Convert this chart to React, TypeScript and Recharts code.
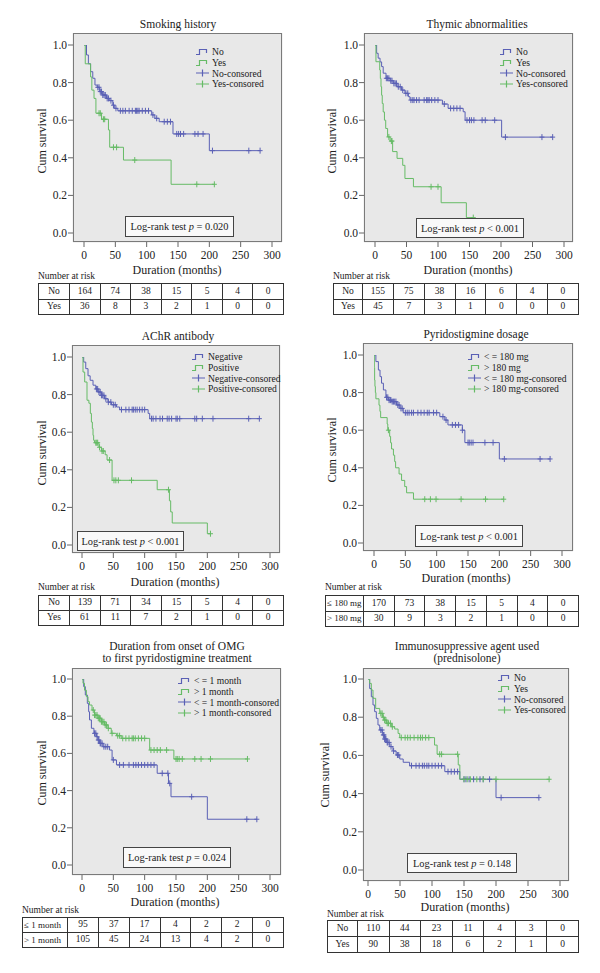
import React from 'react';
import { ComposedChart, Line, Scatter, XAxis, YAxis, CartesianGrid } from 'recharts';

const BLUE = '#5a60b5';
const GREEN = '#66bb66';
const BG = '#e8e8e8';
const FONT = '"Liberation Serif", "DejaVu Serif", serif';

type Pt = [number, number];

// ---- Smoking history
const SMOKE_NO: Pt[] = [[0, 1], [4, 0.947], [7, 0.9], [10.5, 0.858], [14, 0.823], [17.5, 0.787], [21, 0.775], [25, 0.752], [30, 0.734], [36, 0.716], [41, 0.704], [46, 0.68], [49, 0.663], [54, 0.65], [108, 0.628], [113, 0.61], [120, 0.592], [142, 0.527], [200, 0.438], [281, 0.438]];
const SMOKE_NO_CENS = [22, 24, 26, 28, 30, 32, 34, 37, 39, 43, 47, 51, 58, 62, 66, 72, 77, 82, 84, 86, 88, 93, 98, 103, 110, 116, 128, 133, 138, 148, 151, 154, 159, 177, 182, 190, 205, 263, 281];
const SMOKE_YES: Pt[] = [[0, 1], [2, 0.9], [10.5, 0.83], [12.5, 0.76], [16, 0.716], [19, 0.637], [28, 0.605], [39, 0.548], [41, 0.456], [63, 0.388], [139, 0.259], [208, 0.259]];
const SMOKE_YES_CENS = [24, 26, 31, 33, 47, 52, 81, 180, 208];
const SMOKE_RISK_NO = [164, 74, 38, 15, 5, 4, 0];
const SMOKE_RISK_YES = [36, 8, 3, 2, 1, 0, 0];

// ---- Thymic abnormalities
const THYM_NO: Pt[] = [[0, 1], [2.6, 0.956], [5, 0.93], [8, 0.91], [10.5, 0.885], [13, 0.85], [17.5, 0.823], [24, 0.81], [29, 0.796], [35, 0.778], [42, 0.76], [47.5, 0.743], [53, 0.725], [55.5, 0.707], [107, 0.686], [116, 0.663], [140, 0.645], [143, 0.6], [201, 0.51], [282, 0.51]];
const THYM_NO_CENS = [18, 20, 22, 25, 27, 30, 32, 34, 37, 40, 44, 49, 52, 57, 60, 62, 66, 70, 78, 82, 84, 86, 90, 95, 100, 110, 120, 125, 130, 135, 146, 150, 153, 157, 170, 175, 190, 207, 265, 282];
const THYM_YES: Pt[] = [[0, 1], [1.5, 0.911], [7.5, 0.867], [8.5, 0.822], [9.5, 0.778], [10.5, 0.733], [11.5, 0.689], [13, 0.644], [15, 0.6], [17, 0.556], [20, 0.511], [24, 0.489], [28, 0.433], [35, 0.397], [44, 0.36], [47.5, 0.29], [61, 0.246], [105, 0.161], [145, 0.082], [156, 0.082]];
const THYM_YES_CENS = [22, 26, 27, 89, 100, 156];
const THYM_RISK_NO = [155, 75, 38, 16, 6, 4, 0];
const THYM_RISK_YES = [45, 7, 3, 1, 0, 0, 0];

// ---- AChR antibody
const ACHR_NEG: Pt[] = [[0, 1], [2.7, 0.973], [6, 0.938], [9.6, 0.9], [13, 0.876], [17.6, 0.85], [22, 0.83], [25.6, 0.814], [31, 0.796], [36, 0.778], [41.6, 0.76], [47, 0.746], [55, 0.734], [60, 0.72], [105.5, 0.7], [108, 0.672], [283, 0.672]];
const ACHR_NEG_CENS = [23, 25, 27, 29, 31, 33, 35, 38, 42, 46, 50, 53, 63, 70, 75, 80, 82, 85, 88, 92, 96, 100, 111, 113.5, 118, 124.5, 128.5, 136, 139, 143, 150, 152, 156, 180, 183, 192, 209, 266, 283];
const ACHR_POS: Pt[] = [[0, 1], [1.6, 0.92], [4.3, 0.867], [8, 0.77], [11, 0.754], [13.3, 0.7], [15, 0.654], [16.5, 0.62], [17.6, 0.583], [18.6, 0.557], [20, 0.544], [27, 0.52], [31, 0.5], [37, 0.48], [40, 0.452], [48, 0.344], [120, 0.294], [139.5, 0.235], [141.5, 0.176], [144, 0.117], [200, 0.06], [205, 0.06]];
const ACHR_POS_CENS = [22, 23.5, 25, 28, 32, 34, 44, 51, 54, 58, 79, 138, 205];
const ACHR_RISK_NO = [139, 71, 34, 15, 5, 4, 0];
const ACHR_RISK_YES = [61, 11, 7, 2, 1, 0, 0];

// ---- Pyridostigmine dosage
const PYR_LE: Pt[] = [[0, 1], [3, 0.965], [7, 0.92], [9.6, 0.885], [12, 0.85], [15, 0.814], [19, 0.775], [23, 0.76], [28, 0.752], [36, 0.734], [41.4, 0.716], [46.7, 0.693], [105, 0.672], [113, 0.654], [118, 0.628], [141, 0.6], [145, 0.534], [200, 0.447], [281, 0.447]];
const PYR_LE_CENS = [20, 22, 24, 26, 27, 29, 31, 33, 35, 38, 40, 43, 45, 50, 53, 56, 60, 63, 70, 75, 80, 85, 88, 95, 100, 110, 115, 125, 130, 135, 141, 150, 152, 155, 158, 177, 190, 208, 265, 281];
const PYR_GT: Pt[] = [[0, 1], [0.5, 0.933], [1, 0.867], [1.5, 0.833], [2.2, 0.8], [3, 0.767], [8, 0.733], [9.5, 0.7], [10.6, 0.667], [21, 0.633], [22, 0.6], [25, 0.567], [26.5, 0.533], [28, 0.5], [31, 0.467], [33, 0.433], [34.5, 0.4], [40, 0.367], [44, 0.333], [49, 0.3], [52, 0.267], [63, 0.233], [207, 0.233]];
const PYR_GT_CENS = [23, 81, 90, 99, 139, 178, 207];
const PYR_RISK_LE = [170, 73, 38, 15, 5, 4, 0];
const PYR_RISK_GT = [30, 9, 3, 2, 1, 0, 0];

// ---- Onset to first pyridostigmine
const OMG_LE: Pt[] = [[0, 1], [2.7, 0.959], [5.3, 0.914], [8.5, 0.869], [10.6, 0.824], [12, 0.78], [15, 0.735], [19, 0.708], [23, 0.69], [25.5, 0.672], [28, 0.654], [33.5, 0.636], [44, 0.618], [48, 0.565], [55, 0.538], [120, 0.493], [138, 0.439], [142, 0.367], [200, 0.246], [279, 0.246]];
const OMG_LE_CENS = [20, 22, 24, 26, 27, 29, 30, 32, 35, 38, 41, 50, 60, 66, 75, 82, 86, 90, 95, 100, 105, 110, 115, 128, 137, 140, 175, 263, 279];
const OMG_GT: Pt[] = [[0, 1], [1.6, 0.977], [4, 0.94], [7, 0.905], [9.6, 0.878], [12, 0.86], [16, 0.833], [20, 0.806], [25.5, 0.789], [31, 0.77], [36, 0.753], [41.4, 0.735], [46.7, 0.708], [55, 0.695], [62.6, 0.681], [108, 0.618], [146.6, 0.57], [264, 0.57]];
const OMG_GT_CENS = [18, 20, 22, 24, 26, 28, 29, 31, 33, 35, 37, 39, 42, 48, 57, 60, 65, 70, 75, 80, 82, 85, 90, 95, 100, 110, 115, 120, 125, 135, 150, 152, 155, 160, 180, 190, 205, 264];
const OMG_RISK_LE = [95, 37, 17, 4, 2, 2, 0];
const OMG_RISK_GT = [105, 45, 24, 13, 4, 2, 0];

// ---- Prednisolone
const IMM_NO: Pt[] = [[0, 1], [2.6, 0.95], [5.2, 0.907], [7.8, 0.864], [10.4, 0.829], [13, 0.794], [15.6, 0.759], [18.3, 0.733], [22.4, 0.707], [26, 0.686], [28.7, 0.668], [34, 0.646], [39, 0.623], [44, 0.602], [49.6, 0.581], [55, 0.564], [65, 0.546], [120, 0.515], [143.5, 0.475], [200, 0.379], [267, 0.379]];
const IMM_NO_CENS = [20, 22, 24, 25, 26, 27, 28, 30, 31, 33, 36, 40, 46, 48, 68, 75, 80, 85, 88, 92, 95, 100, 105, 110, 115, 125, 130, 135, 140, 150, 153, 158, 165, 175, 180, 190, 208, 267];
const IMM_YES: Pt[] = [[0, 1], [2.6, 0.977], [5.2, 0.942], [7.8, 0.899], [12, 0.846], [18.3, 0.82], [22.4, 0.8], [26, 0.785], [28.7, 0.768], [36.5, 0.75], [41.7, 0.738], [47, 0.715], [49.6, 0.693], [104, 0.654], [108, 0.606], [141, 0.55], [143.5, 0.475], [283, 0.475]];
const IMM_YES_CENS = [20, 22, 24, 26, 28, 30, 32, 35, 38, 52, 58, 62, 66, 72, 78, 82, 85, 90, 95, 112, 115, 140, 150, 155, 160, 170, 180, 200, 283];
const IMM_RISK_NO = [110, 44, 23, 11, 4, 3, 0];
const IMM_RISK_YES = [90, 38, 18, 6, 2, 1, 0];

const X_TICKS = [0, 50, 100, 150, 200, 250, 300];
const Y_TICKS = [0, 0.2, 0.4, 0.6, 0.8, 1];

type Box = { l: number; t: number; r: number; b: number };
type Panel = {
  title: string[]; titleX: number; titleY: number;
  frame: Box; padX: [number, number]; padY: [number, number];
  a: Pt[]; aCens: number[]; b: Pt[]; bCens: number[];
  names: string[]; rowNames: string[]; legX: number; legY: number;
  op: string; pval: string; box: Box;
  yLabX: number; yLabY: number; xTitX: number; xTitY: number;
  nrX: number; nrY: number; table: Box; firstCol: number; riskA: number[]; riskB: number[]; leftAlign?: boolean;
};

const PANELS: Panel[] = [
  {
    title: ['Smoking history'], titleX: 178, titleY: 25,
    frame: { l: 73, t: 33, r: 282, b: 242 }, padX: [11, 10], padY: [12, 9],
    a: SMOKE_NO, aCens: SMOKE_NO_CENS, b: SMOKE_YES, bCens: SMOKE_YES_CENS,
    names: ['No', 'Yes'], rowNames: ['No', 'Yes'], legX: 196, legY: 52,
    op: '=', pval: '0.020', box: { l: 125, t: 216, r: 234, b: 237 },
    yLabX: 42, yLabY: 141, xTitX: 177, xTitY: 270,
    nrX: 38, nrY: 277, table: { l: 38, t: 283, r: 283, b: 314 }, firstCol: 31, riskA: SMOKE_RISK_NO, riskB: SMOKE_RISK_YES,
  },
  {
    title: ['Thymic abnormalities'], titleX: 477, titleY: 25,
    frame: { l: 364, t: 33, r: 573, b: 242 }, padX: [11, 9], padY: [12, 9],
    a: THYM_NO, aCens: THYM_NO_CENS, b: THYM_YES, bCens: THYM_YES_CENS,
    names: ['No', 'Yes'], rowNames: ['No', 'Yes'], legX: 500, legY: 52,
    op: '<', pval: '0.001', box: { l: 416, t: 218, r: 524, b: 238 },
    yLabX: 332, yLabY: 141, xTitX: 468, xTitY: 270,
    nrX: 333, nrY: 277, table: { l: 333, t: 283, r: 578, b: 314 }, firstCol: 29, riskA: THYM_RISK_NO, riskB: THYM_RISK_YES,
  },
  {
    title: ['AChR antibody'], titleX: 178, titleY: 337,
    frame: { l: 72, t: 345, r: 280, b: 553 }, padX: [10, 10], padY: [12, 8],
    a: ACHR_NEG, aCens: ACHR_NEG_CENS, b: ACHR_POS, bCens: ACHR_POS_CENS,
    names: ['Negative', 'Positive'], rowNames: ['No', 'Yes'], legX: 192, legY: 357,
    op: '<', pval: '0.001', box: { l: 77, t: 531, r: 184, b: 551 },
    yLabX: 42, yLabY: 453, xTitX: 175, xTitY: 582,
    nrX: 38, nrY: 588, table: { l: 38, t: 595, r: 283, b: 625 }, firstCol: 31, riskA: ACHR_RISK_NO, riskB: ACHR_RISK_YES,
  },
  {
    title: ['Pyridostigmine dosage'], titleX: 476, titleY: 335,
    frame: { l: 363, t: 343, r: 573, b: 551 }, padX: [11, 11], padY: [12, 8],
    a: PYR_LE, aCens: PYR_LE_CENS, b: PYR_GT, bCens: PYR_GT_CENS,
    names: ['< = 180 mg', '> 180 mg'], rowNames: ['≤ 180 mg', '> 180 mg'], legX: 468, legY: 357,
    op: '<', pval: '0.001', box: { l: 415, t: 525, r: 523, b: 547 },
    yLabX: 332, yLabY: 450, xTitX: 466, xTitY: 578,
    nrX: 325, nrY: 588, table: { l: 325, t: 595, r: 578, b: 626 }, firstCol: 38, riskA: PYR_RISK_LE, riskB: PYR_RISK_GT, leftAlign: true,
  },
  {
    title: ['Duration from onset of OMG', 'to first pyridostigmine treatment'], titleX: 177, titleY: 647,
    frame: { l: 72, t: 668, r: 281, b: 875 }, padX: [10, 11], padY: [11, 10],
    a: OMG_LE, aCens: OMG_LE_CENS, b: OMG_GT, bCens: OMG_GT_CENS,
    names: ['< = 1 month', '> 1 month'], rowNames: ['≤ 1 month', '> 1 month'], legX: 178, legY: 681,
    op: '=', pval: '0.024', box: { l: 123, t: 847, r: 231, b: 868 },
    yLabX: 42, yLabY: 773, xTitX: 175, xTitY: 902,
    nrX: 22, nrY: 911, table: { l: 22, t: 917, r: 283, b: 947 }, firstCol: 45, riskA: OMG_RISK_LE, riskB: OMG_RISK_GT, leftAlign: true,
  },
  {
    title: ['Immunosuppressive agent used', '(prednisolone)'], titleX: 467, titleY: 647,
    frame: { l: 363, t: 668, r: 569, b: 881 }, padX: [5, 9], padY: [11, 11],
    a: IMM_NO, aCens: IMM_NO_CENS, b: IMM_YES, bCens: IMM_YES_CENS,
    names: ['No', 'Yes'], rowNames: ['No', 'Yes'], legX: 498, legY: 678,
    op: '=', pval: '0.148', box: { l: 407, t: 853, r: 517, b: 873 },
    yLabX: 325, yLabY: 775, xTitX: 465, xTitY: 907,
    nrX: 327, nrY: 915, table: { l: 327, t: 920, r: 578, b: 952 }, firstCol: 30, riskA: IMM_RISK_NO, riskB: IMM_RISK_YES,
  },
];

// survival level of a step curve at time t (for placing censor marks on the curve)
const levelAt = (curve: Pt[], t: number) => {
  let s = curve[0][1];
  for (const [ct, cs] of curve) if (ct <= t) s = cs;
  return s;
};

const cross = (color: string) => (props: any) => {
  const { cx, cy } = props;
  if (cx == null || cy == null) return <g />;
  return <path d={`M${cx},${cy - 3}V${cy + 3}M${cx - 2.5},${cy}H${cx + 2.5}`} stroke={color} strokeWidth={1} fill="none" />;
};

const YW = 40;
const XH = 24;
const tickStyle = { fontSize: 11.5, fill: '#222', fontFamily: FONT };

function KMChart({ p }: { p: Panel }) {
  const fr = p.frame;
  const plotW = fr.r - fr.l;
  const plotH = fr.b - fr.t;
  const w = plotW + YW + 2;
  const h = plotH + XH;
  const lineA = p.a.map(([x, s]) => ({ t: x, s }));
  const lineB = p.b.map(([x, s]) => ({ t: x, s }));
  const censA = p.aCens.map((x) => ({ t: x, s: levelAt(p.a, x) }));
  const censB = p.bCens.map((x) => ({ t: x, s: levelAt(p.b, x) }));
  return (
    <div style={{ position: 'absolute', left: fr.l - YW, top: fr.t, width: w, height: h }}>
      <ComposedChart width={w} height={h} margin={{ top: 0, right: 2, bottom: 0, left: 0 }}>
        <CartesianGrid fill={BG} fillOpacity={1} stroke={BG} horizontalPoints={[]} verticalPoints={[]} />
        <XAxis type="number" dataKey="t" domain={[0, 300]} ticks={X_TICKS} padding={{ left: p.padX[0], right: p.padX[1] }}
          height={XH} axisLine={false} tickSize={5} tickMargin={4} tickLine={{ stroke: '#666' }} tick={tickStyle} allowDataOverflow />
        <YAxis type="number" dataKey="s" domain={[0, 1]} ticks={Y_TICKS} tickFormatter={(v: number) => v.toFixed(1)}
          padding={{ top: p.padY[0], bottom: p.padY[1] }} width={YW} axisLine={false} tickSize={5} tickMargin={1}
          tickLine={{ stroke: '#666' }} tick={tickStyle} allowDataOverflow />
        <Line data={lineA} type="stepAfter" dataKey="s" stroke={BLUE} strokeWidth={1} dot={false} isAnimationActive={false} />
        <Line data={lineB} type="stepAfter" dataKey="s" stroke={GREEN} strokeWidth={1} dot={false} isAnimationActive={false} />
        <Scatter data={censA} shape={cross(BLUE)} isAnimationActive={false} />
        <Scatter data={censB} shape={cross(GREEN)} isAnimationActive={false} />
      </ComposedChart>
      <div style={{ position: 'absolute', left: YW, top: 0, width: plotW, height: plotH, border: '1px solid #7a7a7a', boxSizing: 'border-box', zIndex: 1 }} />
    </div>
  );
}

function LegendIcon({ kind, color }: { kind: 'line' | 'cens'; color: string }) {
  return (
    <svg width={13} height={8} style={{ display: 'block' }}>
      {kind === 'line'
        ? <path d="M0,6.5H3.5V1.5H10.5V5" stroke={color} strokeWidth={1.2} fill="none" />
        : <path d="M0,4H13M6.5,0.5V7.5" stroke={color} strokeWidth={1.2} fill="none" />}
    </svg>
  );
}

function KMLegend({ p }: { p: Panel }) {
  const items = [
    { label: p.names[0], color: BLUE, kind: 'line' as const },
    { label: p.names[1], color: GREEN, kind: 'line' as const },
    { label: `${p.names[0]}-consored`, color: BLUE, kind: 'cens' as const },
    { label: `${p.names[1]}-consored`, color: GREEN, kind: 'cens' as const },
  ];
  const rowH = 10.6;
  return (
    <div style={{ position: 'absolute', left: p.legX, top: p.legY - rowH / 2, fontFamily: FONT, fontSize: 9.6, color: '#222', zIndex: 2 }}>
      {items.map((it) => (
        <div key={it.label} style={{ display: 'flex', alignItems: 'center', height: rowH, whiteSpace: 'nowrap' }}>
          <LegendIcon kind={it.kind} color={it.color} />
          <span style={{ marginLeft: 3 }}>{it.label}</span>
        </div>
      ))}
    </div>
  );
}

function RiskTable({ p }: { p: Panel }) {
  const tb = p.table;
  const colW = (tb.r - tb.l - p.firstCol) / 7;
  const rowH = (tb.b - tb.t) / 2;
  const cell: React.CSSProperties = { border: '1px solid #333', padding: 0, height: rowH - 1, textAlign: 'center', lineHeight: 1, overflow: 'hidden' };
  const rows = [p.riskA, p.riskB];
  return (
    <>
      <div style={{ position: 'absolute', left: p.nrX, top: p.nrY - 6, fontFamily: FONT, fontSize: 9.5, color: '#222', whiteSpace: 'nowrap' }}>Number at risk</div>
      <table style={{ position: 'absolute', left: tb.l, top: tb.t, width: tb.r - tb.l, borderCollapse: 'collapse', tableLayout: 'fixed', fontFamily: FONT, fontSize: 9.5, color: '#222' }}>
        <colgroup>
          <col style={{ width: p.firstCol }} />
          {rows[0].map((_, i) => <col key={i} style={{ width: colW }} />)}
        </colgroup>
        <tbody>
          {rows.map((row, ri) => (
            <tr key={ri}>
              <td style={{ ...cell, textAlign: p.leftAlign ? 'left' : 'center', paddingLeft: p.leftAlign ? 1 : 0, whiteSpace: 'nowrap', fontSize: p.leftAlign ? 9 : 9.5 }}>{p.rowNames[ri]}</td>
              {row.map((v, i) => <td key={i} style={cell}>{v}</td>)}
            </tr>
          ))}
        </tbody>
      </table>
    </>
  );
}

function KMPanel({ p }: { p: Panel }) {
  const { box } = p;
  const text: React.CSSProperties = { position: 'absolute', fontFamily: FONT, color: '#222', whiteSpace: 'nowrap' };
  return (
    <>
      {p.title.map((line, i) => (
        <div key={i} style={{ ...text, left: p.titleX, top: p.titleY - 7 + i * 12, transform: 'translateX(-50%)', fontSize: 11.5 }}>{line}</div>
      ))}
      <KMChart p={p} />
      <div style={{ ...text, left: p.yLabX, top: p.yLabY, fontSize: 12, transform: 'translate(-50%, -50%) rotate(-90deg)' }}>Cum survival</div>
      <div style={{ ...text, left: p.xTitX, top: p.xTitY - 7, fontSize: 12, transform: 'translateX(-50%)' }}>Duration (months)</div>
      <KMLegend p={p} />
      <div style={{ ...text, left: box.l, top: box.t, width: box.r - box.l, height: box.b - box.t, border: '1px solid #444', background: '#f9f9f9', boxSizing: 'border-box', display: 'flex', alignItems: 'center', justifyContent: 'center', fontSize: 10.4, zIndex: 2 }}>
        <span>Log-rank test <i>p</i> {p.op} {p.pval}</span>
      </div>
      <RiskTable p={p} />
    </>
  );
}

export default function App() {
  return (
    <div style={{ position: 'absolute', left: 0, top: 0, width: 600, height: 973, background: '#fff' }}>
      {PANELS.map((p, i) => <KMPanel key={i} p={p} />)}
    </div>
  );
}
